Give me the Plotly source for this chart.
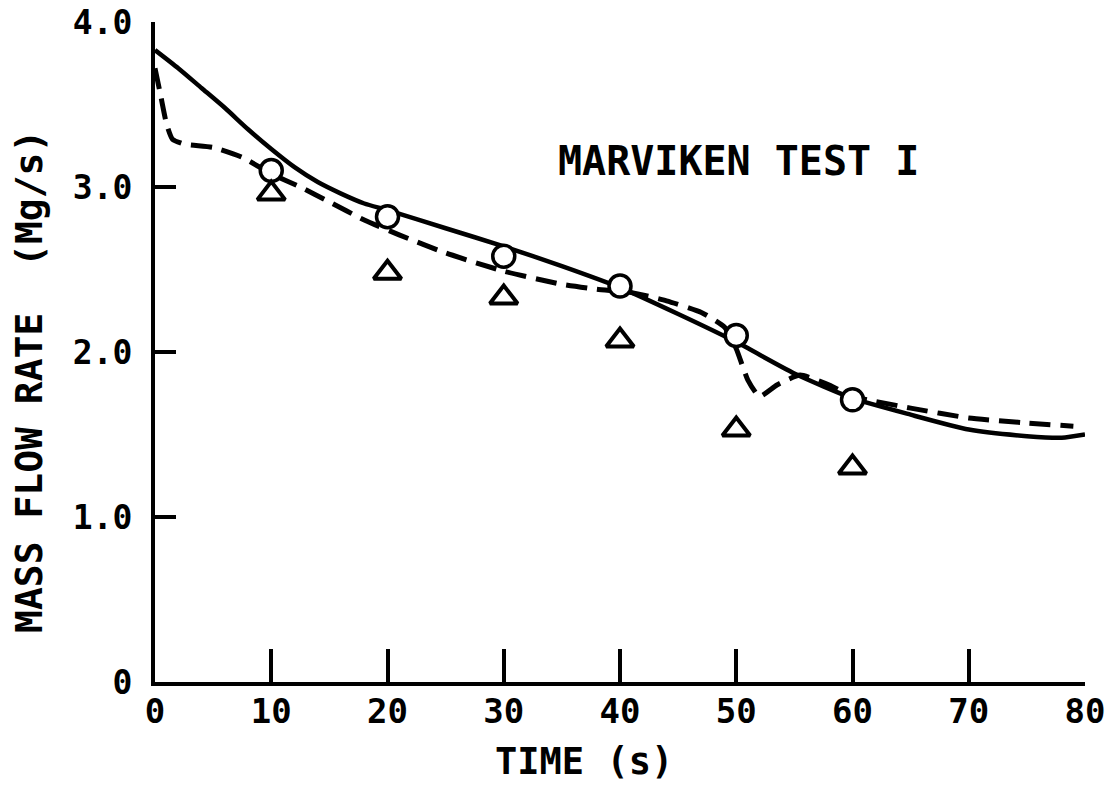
import plotly.graph_objects as go

# ---- data ----
calc_t = [0, 2, 4, 6, 8, 10, 12, 14, 16, 18, 20, 25, 30, 35, 40, 45, 50, 55, 60, 65, 70, 75, 78, 80]
calc_w = [3.83, 3.72, 3.60, 3.48, 3.35, 3.23, 3.12, 3.03, 2.96, 2.90, 2.86, 2.75, 2.64, 2.52,
          2.39, 2.23, 2.06, 1.87, 1.72, 1.62, 1.53, 1.49, 1.48, 1.50]

dash_t = [0, 0.5, 1, 1.5, 2.5, 5, 7.5, 10, 12.5, 15, 18, 21, 25, 30, 35, 38, 41, 44, 47, 49,
          50, 51, 52, 53.5, 55.5, 58, 60, 62, 65, 70, 75, 79]
dash_w = [3.72, 3.55, 3.38, 3.29, 3.26, 3.24, 3.18, 3.08, 3.00, 2.91, 2.80, 2.71, 2.60, 2.49,
          2.41, 2.38, 2.36, 2.31, 2.24, 2.15, 2.02, 1.83, 1.73, 1.80, 1.86, 1.80, 1.73, 1.70,
          1.66, 1.60, 1.57, 1.55]

circ_t = [10, 20, 30, 40, 50, 60]
circ_w = [3.10, 2.82, 2.58, 2.40, 2.10, 1.71]

tri_t = [10, 20, 30, 40, 50, 60]
tri_w = [2.96, 2.48, 2.33, 2.07, 1.53, 1.30]

x_ticks = [0, 10, 20, 30, 40, 50, 60, 70, 80]
x_tick_text = ["0", "10", "20", "30", "40", "50", "60", "70", "80"]
y_ticks = [0, 1, 2, 3, 4]
y_tick_text = ["0", "1.0", "2.0", "3.0", "4.0"]

FONT = "DejaVu Sans Mono"

W, H = 1115, 789
L, R, T, B = 155, 30, 22, 107

fig = go.Figure()
fig.add_trace(go.Scatter(x=calc_t, y=calc_w, mode="lines",
                         line=dict(color="black", width=4.5, shape="spline", smoothing=0.6), showlegend=False))
fig.add_trace(go.Scatter(x=dash_t, y=dash_w, mode="lines",
                         line=dict(color="black", width=5, dash="21px,10px", shape="spline", smoothing=0.5), showlegend=False))
fig.add_trace(go.Scatter(x=circ_t, y=circ_w, mode="markers",
                         marker=dict(symbol="circle", size=22, color="white", line=dict(color="black", width=3.5)),
                         showlegend=False))
fig.add_trace(go.Scatter(x=tri_t, y=tri_w, mode="markers",
                         marker=dict(symbol="triangle-up-open", size=24, color="black", line=dict(color="black", width=4)),
                         showlegend=False))

fig.update_layout(
    width=W, height=H,
    margin=dict(l=L, r=R, t=T, b=B, autoexpand=False),
    paper_bgcolor="white", plot_bgcolor="white",
    xaxis=dict(range=[0, 80], tickvals=x_ticks, ticktext=x_tick_text, showgrid=False, zeroline=False,
               showline=True, linecolor="black", linewidth=4, ticks="inside", ticklen=33, tickwidth=4,
               tickcolor="black", ticklabelstandoff=-4, automargin=False, ticklabeloverflow="allow",
               tickfont=dict(family=FONT, size=34, color="black", weight="bold")),
    yaxis=dict(range=[0, 4], tickvals=y_ticks, ticktext=y_tick_text, showgrid=False, zeroline=False,
               showline=True, linecolor="black", linewidth=4, ticks="inside", ticklen=21, tickwidth=4,
               tickcolor="black", ticklabelstandoff=12, automargin=False, ticklabeloverflow="allow",
               tickfont=dict(family=FONT, size=33, color="black", weight="bold")),
    annotations=[
        dict(text="MARVIKEN TEST I", x=738, y=161, xref="paper", yref="paper", showarrow=False,
             font=dict(family=FONT, size=40, color="black", weight="bold")),
        dict(text="TIME (s)", x=584, y=761, xref="paper", yref="paper", showarrow=False,
             font=dict(family=FONT, size=37, color="black", weight="bold")),
        dict(text="MASS FLOW RATE  (Mg/s)", x=29, y=382, xref="paper", yref="paper", showarrow=False,
             textangle=-90, font=dict(family=FONT, size=38, color="black", weight="bold")),
    ],
)

# convert pixel positions of annotations into paper coordinates
pw, ph = W - L - R, H - T - B
for a in fig.layout.annotations:
    px, py = a.x, a.y
    a.x = (px - L) / pw
    a.y = 1 - (py - T) / ph
    a.xanchor = "center"
    a.yanchor = "middle"

fig.write_html("out.html", config={"displayModeBar": False},
               post_script="document.body.style.margin='0';document.body.style.overflow='hidden';")
